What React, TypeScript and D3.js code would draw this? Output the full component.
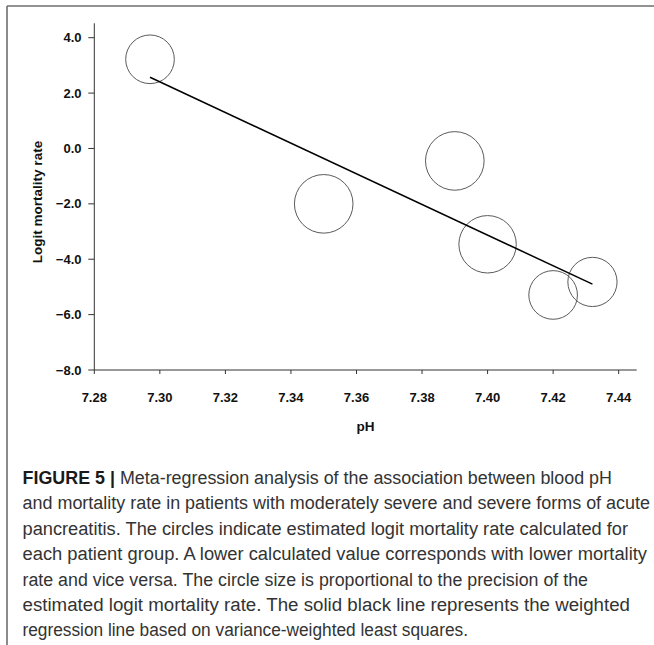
import React from "react";
import * as d3 from "d3";

// Group-level meta-regression data
const pH = [7.297, 7.35, 7.39, 7.4, 7.42, 7.432];
const logitRate = [3.22, -2.0, -0.45, -3.46, -5.29, -4.82];
const precision = [0.83, 1.0, 1.0, 0.98, 0.83, 0.84];

// Weighted regression line end points
const fitPH = [7.297, 7.432];
const fitLogit = [2.57, -4.9];

const xTicks = [7.28, 7.3, 7.32, 7.34, 7.36, 7.38, 7.4, 7.42, 7.44];
const yTicks = [-8, -6, -4, -2, 0, 2, 4];

const captionBold = "FIGURE 5 |";
const captionLines = [
  " Meta-regression analysis of the association between blood pH",
  "and mortality rate in patients with moderately severe and severe forms of acute",
  "pancreatitis. The circles indicate estimated logit mortality rate calculated for",
  "each patient group. A lower calculated value corresponds with lower mortality",
  "rate and vice versa. The circle size is proportional to the precision of the",
  "estimated logit mortality rate. The solid black line represents the weighted",
  "regression line based on variance-weighted least squares.",
];
const captionEnds = [612, 650, 628, 647, 588, 630, 468];

const W = 654;
const H = 645;
const FONT = "'Liberation Sans', Arial, Helvetica, sans-serif";

export default function App() {
  const x = d3.scaleLinear().domain([7.28, 7.4455]).range([94.3, 636.7]);
  const y = d3.scaleLinear().domain([-8, 4.52]).range([370, 23.3]);
  const r = d3.scaleLinear().domain([0, 1]).range([0, 29.3]);
  const fmtX = d3.format(".2f");
  const fmtY = d3.format(".1f");
  const line = d3
    .line<number>()
    .x((d, i) => x(fitPH[i]))
    .y((d) => y(d));

  const x0 = x.range()[0];
  const y0 = y.range()[0];
  const capX = 22.5;

  return (
    <svg
      width={W}
      height={H}
      style={{ position: "absolute", left: 0, top: 0, background: "#fff" }}
      fontFamily={FONT}
    >
      {/* frame */}
      <line x1={7} y1={6} x2={W} y2={6} stroke="#6e6e6e" strokeWidth={1.6} />
      <line x1={7} y1={6} x2={7} y2={H} stroke="#6e6e6e" strokeWidth={1.6} />

      {/* y axis */}
      <line x1={x0} y1={y.range()[1]} x2={x0} y2={y0} stroke="#333" strokeWidth={1} />
      {yTicks.map((t) => (
        <g key={"y" + t}>
          <line x1={x0 - 6} x2={x0} y1={y(t)} y2={y(t)} stroke="#333" strokeWidth={1} />
          <text
            x={81.5}
            y={y(t) + 4.6}
            textAnchor="end"
            fontSize={13}
            fontWeight="bold"
            fill="#111"
          >
            {fmtY(t)}
          </text>
        </g>
      ))}
      <text
        transform={`translate(41.5, 202) rotate(-90)`}
        textAnchor="middle"
        fontSize={13.5}
        fontWeight="bold"
        fill="#111"
      >
        Logit mortality rate
      </text>

      {/* x axis */}
      <line x1={x0} y1={y0} x2={x.range()[1]} y2={y0} stroke="#333" strokeWidth={1} />
      {xTicks.map((t) => (
        <g key={"x" + t}>
          <line x1={x(t)} x2={x(t)} y1={y0} y2={y0 + 4} stroke="#333" strokeWidth={1} />
          <text
            x={x(t)}
            y={402}
            textAnchor="middle"
            fontSize={13}
            fontWeight="bold"
            fill="#111"
          >
            {fmtX(t)}
          </text>
        </g>
      ))}
      <text
        x={(x.range()[0] + x.range()[1]) / 2}
        y={431}
        textAnchor="middle"
        fontSize={13.5}
        fontWeight="bold"
        fill="#111"
      >
        pH
      </text>

      {/* study circles */}
      {pH.map((p, i) => (
        <circle
          key={"c" + i}
          cx={x(p)}
          cy={y(logitRate[i])}
          r={r(precision[i])}
          fill="none"
          stroke="#5a5a5a"
          strokeWidth={1}
        />
      ))}

      {/* regression line */}
      <path d={line(fitLogit) || ""} fill="none" stroke="#000" strokeWidth={1.5} />

      {/* caption */}
      {captionLines.map((s, i) => (
        <text
          key={"cap" + i}
          x={capX}
          y={484 + i * 25.4}
          fontSize={18}
          fill="#333"
          textLength={captionEnds[i] - capX}
          lengthAdjust="spacingAndGlyphs"
          style={{ whiteSpace: "pre" }}
        >
          {i === 0 ? (
            <>
              <tspan fontWeight="bold" fill="#1a1a1a">
                {captionBold}
              </tspan>
              <tspan>{s}</tspan>
            </>
          ) : (
            s
          )}
        </text>
      ))}
    </svg>
  );
}
